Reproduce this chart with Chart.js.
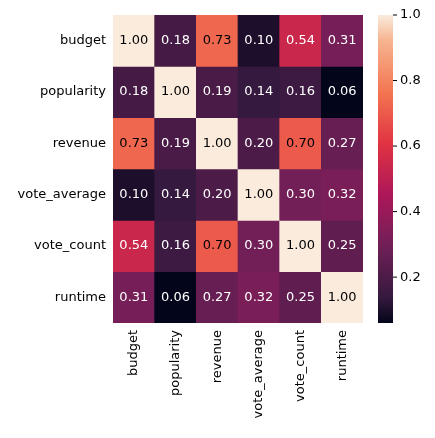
<!DOCTYPE html>
<html>
<head>
<script src="https://cdn.jsdelivr.net/npm/chart.js@4"></script>
<style>body{margin:0;background:#fff}</style>
</head>
<body>
<canvas id="grafico" width="435" height="438"></canvas>
<script>
// Dados da matriz de correlação
const variaveis = ['budget', 'popularity', 'revenue', 'vote_average', 'vote_count', 'runtime'];
const linhaBudget = [1.00, 0.18, 0.73, 0.10, 0.54, 0.31];
const linhaPopularity = [0.18, 1.00, 0.19, 0.14, 0.16, 0.06];
const linhaRevenue = [0.73, 0.19, 1.00, 0.20, 0.70, 0.27];
const linhaVoteAverage = [0.10, 0.14, 0.20, 1.00, 0.30, 0.32];
const linhaVoteCount = [0.54, 0.16, 0.70, 0.30, 1.00, 0.25];
const linhaRuntime = [0.31, 0.06, 0.27, 0.32, 0.25, 1.00];
const ticksBarra = [0.2, 0.4, 0.6, 0.8, 1.0];
const linhas = [linhaBudget, linhaPopularity, linhaRevenue, linhaVoteAverage, linhaVoteCount, linhaRuntime];

const vMin = 0.06, vMax = 1.0;

// Paleta "rocket" aproximada
const paradas = [
    [0.0, [3, 5, 26]], [0.083, [53, 25, 62]], [0.25, [112, 31, 87]],
    [0.417, [173, 23, 89]], [0.583, [225, 51, 66]], [0.75, [243, 118, 81]],
    [0.917, [246, 180, 143]], [1.0, [250, 235, 221]]
];
function cor(v) {
    let t = Math.min(1, Math.max(0, (v - vMin) / (vMax - vMin)));
    for (let i = 1; i < paradas.length; i++) {
        if (t <= paradas[i][0]) {
            const [t0, c0] = paradas[i - 1], [t1, c1] = paradas[i];
            const f = (t - t0) / (t1 - t0);
            return 'rgb(' + c0.map((c, k) => Math.round(c + (c1[k] - c) * f)).join(',') + ')';
        }
    }
    return 'rgb(250,235,221)';
}

const fonte = '"DejaVu Sans", sans-serif';

const pluginTextos = {
    id: 'textos',
    afterDatasetsDraw(chart) {
        const ctx = chart.ctx;
        ctx.save();
        ctx.font = '13px ' + fonte;
        ctx.textAlign = 'center';
        ctx.textBaseline = 'middle';
        chart.data.datasets.forEach((ds, i) => {
            chart.getDatasetMeta(i).data.forEach((bar, j) => {
                const v = linhas[i][j];
                ctx.fillStyle = (v - vMin) / (vMax - vMin) > 0.6 ? '#000' : '#fff';
                ctx.fillText(v.toFixed(2), bar.x, (bar.y + bar.base) / 2);
            });
        });
        ctx.restore();
    },
    afterDraw(chart) {
        // Barra de cores
        const ctx = chart.ctx;
        const top = chart.chartArea.top, bottom = chart.chartArea.bottom;
        const x0 = 378, w = 15;
        const grad = ctx.createLinearGradient(0, bottom, 0, top);
        paradas.forEach(p => grad.addColorStop(p[0], 'rgb(' + p[1].join(',') + ')'));
        ctx.save();
        ctx.fillStyle = grad;
        ctx.fillRect(x0, top, w, bottom - top);
        ctx.fillStyle = '#000';
        ctx.strokeStyle = '#000';
        ctx.font = '13px ' + fonte;
        ctx.textBaseline = 'middle';
        ticksBarra.forEach(t => {
            const y = bottom - (t - vMin) / (vMax - vMin) * (bottom - top);
            ctx.beginPath();
            ctx.moveTo(x0 + w, y);
            ctx.lineTo(x0 + w + 4, y);
            ctx.stroke();
            ctx.fillText(t.toFixed(1), x0 + w + 7, y);
        });
        ctx.restore();
    }
};

new Chart(document.getElementById('grafico'), {
    type: 'bar',
    data: {
        labels: variaveis,
        datasets: linhas.map((linha, i) => ({
            label: variaveis[i],
            data: linha.map(() => 1),
            backgroundColor: linha.map(cor),
            borderWidth: 0,
            barPercentage: 1,
            categoryPercentage: 1
        }))
    },
    options: {
        responsive: false,
        animation: false,
        layout: { padding: { top: 15, right: 72, left: 0, bottom: 0 } },
        plugins: { legend: { display: false }, tooltip: { enabled: false } },
        scales: {
            x: {
                stacked: true,
                grid: { display: false, drawTicks: true, tickLength: 4 },
                border: { display: false },
                ticks: { color: '#000', font: { family: fonte, size: 13 }, maxRotation: 90, minRotation: 90 },
                afterFit(s) { s.height = 115; }
            },
            y: {
                stacked: true,
                reverse: true,
                min: 0,
                max: 6,
                grid: { display: false, tickLength: 4 },
                border: { display: false },
                afterBuildTicks(s) { s.ticks = variaveis.map((_, i) => ({ value: i + 0.5 })); },
                ticks: {
                    color: '#000',
                    font: { family: fonte, size: 13 },
                    callback: v => variaveis[Math.floor(v)]
                },
                afterFit(s) { s.width = 113; }
            }
        }
    },
    plugins: [pluginTextos]
});
</script>
</body>
</html>
